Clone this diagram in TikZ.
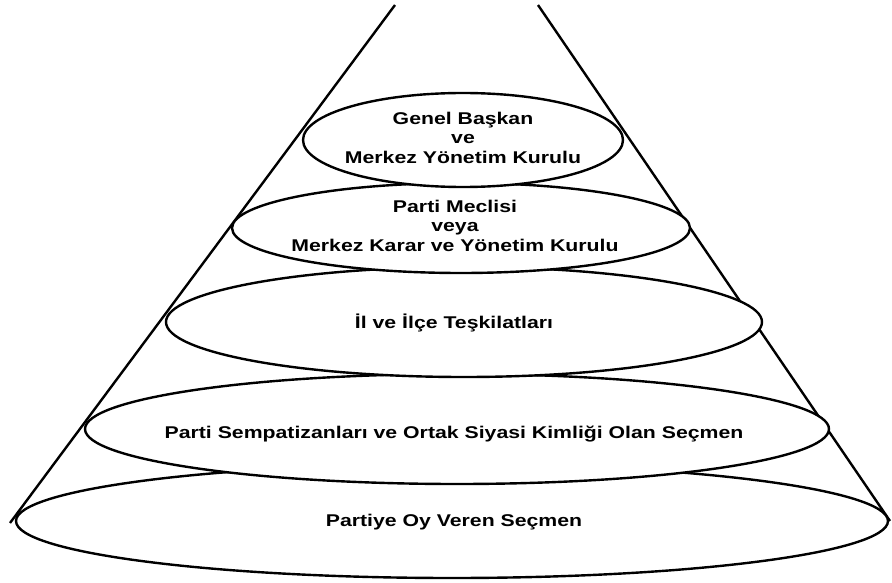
\documentclass[tikz,border=0pt]{standalone}
\usepackage{fontspec}
\setmainfont{Liberation Sans}[FakeStretch=1.25]
\usetikzlibrary{shapes.geometric}
% zero-size centred label, so the ellipse keeps the size it is given;
% the optional argument moves the text (x, y) inside its ellipse
\newcommand\lbl[2][0pt,0pt]{\lblshift{#2}#1\relax}
\def\lblshift#1#2,#3\relax{\makebox[0pt]{\hspace*{#2}\hspace*{#2}%
  \raisebox{\dimexpr#3-4.25pt\relax}[0pt][0pt]{\begin{tabular}{@{}c@{}}#1\end{tabular}}}}
\begin{document}
\begin{tikzpicture}[x=1pt,y=-1pt,
  layer/.style={ellipse, draw, line width=2.4pt, fill=white, inner sep=0pt,
    font=\bfseries\fontsize{17}{19.5}\selectfont},
  side/.style={line width=2.4pt}]
\useasboundingbox (0,0) rectangle (892,583);
% cone sides
\coordinate (tl) at (395,5);
\coordinate (bl) at (10,523);
\coordinate (tr) at (538,5);
\coordinate (br) at (890,521);
\draw[side] (tl) -- (bl);
\draw[side] (tr) -- (br);
% layers, bottom first so the upper ones overlap them
\node[layer, minimum width=872pt, minimum height=114pt] (l5) at (452,521)
  {\lbl[2pt,-2pt]{Partiye Oy Veren Seçmen}};
\node[layer, minimum width=744pt, minimum height=110pt] (l4) at (457,429)
  {\lbl[-3pt,-6pt]{Parti Sempatizanları ve Ortak Siyasi Kimliği Olan Seçmen}};
\node[layer, minimum width=596pt, minimum height=110pt] (l3) at (464,322)
  {\lbl[-10pt,-2pt]{İl ve İlçe Teşkilatları}};
\node[layer, minimum width=458pt, minimum height=90pt] (l2) at (461,228)
  {\lbl[-6pt,0pt]{Parti Meclisi\\veya\\Merkez Karar ve Yönetim Kurulu}};
\node[layer, minimum width=320pt, minimum height=94pt] (l1) at (463,140)
  {\lbl{Genel Başkan\\ve\\Merkez Yönetim Kurulu}};
\end{tikzpicture}
\end{document}
